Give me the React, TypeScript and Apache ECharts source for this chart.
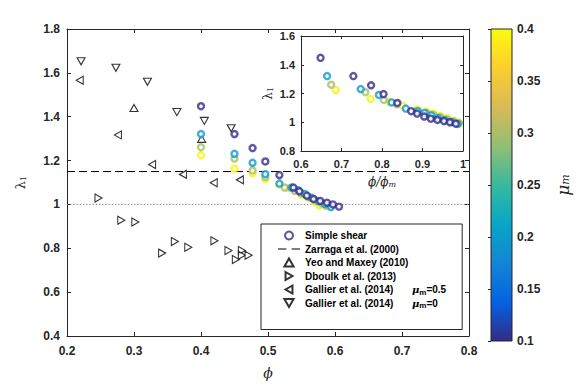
import React, { useEffect, useRef } from 'react';
import * as echarts from 'echarts';

// ---------------- data ----------------
const muValues = [0.1, 0.2, 0.3, 0.4];
const phiMax = [0.617, 0.602, 0.593, 0.583];

const phiMu01 = [0.400, 0.450, 0.477, 0.496, 0.517, 0.538, 0.547, 0.558, 0.568, 0.578, 0.588, 0.597, 0.606];
const lamMu01 = [1.448, 1.321, 1.257, 1.196, 1.134, 1.077, 1.060, 1.040, 1.025, 1.016, 1.008, 1.000, 0.990];
const phiMu02 = [0.400, 0.450, 0.477, 0.496, 0.517, 0.535, 0.545, 0.555, 0.565, 0.575, 0.585, 0.594];
const lamMu02 = [1.321, 1.231, 1.190, 1.138, 1.095, 1.077, 1.065, 1.048, 1.030, 1.015, 1.002, 0.988];
const phiMu03 = [0.400, 0.450, 0.477, 0.496, 0.525, 0.540, 0.550, 0.560, 0.570, 0.580, 0.587];
const lamMu03 = [1.261, 1.209, 1.155, 1.125, 1.077, 1.062, 1.050, 1.035, 1.020, 1.005, 0.993];
const phiMu04 = [0.400, 0.450, 0.477, 0.496, 0.517, 0.530, 0.540, 0.550, 0.560, 0.570, 0.577];
const lamMu04 = [1.224, 1.163, 1.142, 1.115, 1.090, 1.075, 1.062, 1.045, 1.030, 1.010, 0.995];

const gallier0Phi = [0.221, 0.273, 0.320, 0.364, 0.405, 0.445];
const gallier0Lam = [1.653, 1.623, 1.559, 1.421, 1.381, 1.347];
const gallier05Phi = [0.219, 0.276, 0.327, 0.373, 0.419, 0.458];
const gallier05Lam = [1.566, 1.317, 1.182, 1.137, 1.099, 1.112];
const yeoPhi = [0.300, 0.401];
const yeoLam = [1.440, 1.299];
const dboukPhi = [0.247, 0.281, 0.302, 0.342, 0.361, 0.381, 0.420, 0.441, 0.452, 0.461, 0.461, 0.471];
const dboukLam = [1.029, 0.928, 0.920, 0.778, 0.831, 0.805, 0.834, 0.790, 0.749, 0.790, 0.768, 0.768];

const zarragaLambda = 1.15;
const unityLambda = 1;
const phiRange = [0.2, 0.8];

const legendNames = [
  'Simple shear',
  'Zarraga et al. (2000)',
  'Yeo and Maxey (2010)',
  'Dboulk et al. (2013)',
  'Gallier et al. (2014) μm=0.5',
  'Gallier et al. (2014) μm=0',
];

// ---------------- styles ----------------
const shearColors = ['#352a87', '#0a9bcb', '#a9bd69', '#f5f50c'];
const parulaStops = ['#352a87', '#0363e1', '#1485d4', '#06a7c6', '#38b99e', '#92bf73', '#d9ba56', '#fcce2e', '#f9fb0e'];
const axisColor = '#262626';
const sans = 'Liberation Sans, Arial, Helvetica, sans-serif';
const serif = 'DejaVu Serif, Liberation Serif, serif';

const triUp = 'path://M5,0L10,8.66L0,8.66Z';
const triDown = 'path://M0,0L10,0L5,8.66Z';
const triRight = 'path://M0,0L8.66,5L0,10Z';
const triLeft = 'path://M8.66,0L0,5L8.66,10Z';
const dashIcon = 'path://M0,0h8v1h-8zM13,0h8v1h-8z';

const pairs = (xs: number[], ys: number[]) => xs.map((x, i) => [x, ys[i]]);

export default function App() {
  const ref = useRef<HTMLDivElement>(null);
  useEffect(() => {
    if (!ref.current) return;
    const chart = echarts.init(ref.current, undefined, { renderer: 'svg' });

    const shearSets = [
      { phi: phiMu01, lam: lamMu01 },
      { phi: phiMu02, lam: lamMu02 },
      { phi: phiMu03, lam: lamMu03 },
      { phi: phiMu04, lam: lamMu04 },
    ];

    const mainShear = shearSets.map((s, i) => ({
      type: 'scatter',
      name: 'Simple shear',
      xAxisIndex: 0,
      yAxisIndex: 0,
      z: 10 - i,
      symbol: 'circle',
      symbolSize: 6,
      itemStyle: { color: '#fff', borderColor: shearColors[i], borderWidth: 2.4 },
      data: pairs(s.phi, s.lam),
    }));
    const insetShear = shearSets.map((s, i) => ({
      type: 'scatter',
      name: 'inset mu ' + muValues[i],
      xAxisIndex: 2,
      yAxisIndex: 2,
      z: 10 - i,
      symbol: 'circle',
      symbolSize: 6,
      itemStyle: { color: '#fff', borderColor: shearColors[i], borderWidth: 2.4 },
      data: s.phi.map((p, k) => [p / phiMax[i], s.lam[k]]),
    }));

    const triStyle = { color: '#fff', borderColor: '#000', borderWidth: 1.1 };

    const tickLabel = { fontFamily: sans, fontWeight: 'bold', fontSize: 12, color: axisColor };
    const lineSty = { lineStyle: { color: axisColor, width: 1 } };
    const tickIn = (len: number) => ({ show: true, inside: true, length: len, lineStyle: { color: axisColor } });

    const lambdaName = '{l|λ}{s|1}';
    const lambdaRich = {
      l: { fontFamily: serif, fontSize: 13, color: axisColor },
      s: { fontFamily: serif, fontSize: 8, color: axisColor, verticalAlign: 'bottom', lineHeight: 8 },
    };

    const option: any = {
      animation: false,
      backgroundColor: '#fff',
      grid: [
        { left: 67, top: 29, width: 402, height: 312, show: false },
        { left: 301, top: 36, width: 162, height: 115, show: true, backgroundColor: '#fff', borderWidth: 0 },
        {
          left: 491, top: 29, width: 21, height: 312, show: true,
          borderColor: axisColor, borderWidth: 1,
          backgroundColor: new echarts.graphic.LinearGradient(0, 1, 0, 0,
            parulaStops.map((c, i) => ({ offset: i / (parulaStops.length - 1), color: c }))),
        },
      ],
      xAxis: [
        {
          type: 'value', gridIndex: 0, position: 'bottom', min: 0.2, max: 0.8, interval: 0.1,
          axisLine: { show: true, ...lineSty }, axisTick: tickIn(4), splitLine: { show: false },
          axisLabel: { ...tickLabel, margin: 9 },
          name: 'ϕ', nameLocation: 'middle', nameGap: 30,
          nameTextStyle: { fontFamily: serif, fontStyle: 'italic', fontSize: 14, color: axisColor },
        },
        {
          type: 'value', gridIndex: 0, position: 'top', min: 0.2, max: 0.8, interval: 0.1,
          axisLine: { show: true, ...lineSty }, axisTick: tickIn(4), splitLine: { show: false },
          axisLabel: { show: false },
        },
        {
          type: 'value', gridIndex: 1, position: 'bottom', min: 0.6, max: 1, interval: 0.1,
          axisLine: { show: true, ...lineSty }, axisTick: tickIn(3), splitLine: { show: false },
          axisLabel: { ...tickLabel, fontSize: 11, margin: 7 },
          name: '{a|ϕ/ϕ}{s|m}', nameLocation: 'middle', nameGap: 25,
          nameTextStyle: {
            rich: {
              a: { fontFamily: serif, fontStyle: 'italic', fontSize: 12, color: axisColor },
              s: { fontFamily: serif, fontStyle: 'italic', fontSize: 8, color: axisColor, verticalAlign: 'bottom', lineHeight: 8 },
            },
          },
        },
        {
          type: 'value', gridIndex: 1, position: 'top', min: 0.6, max: 1, interval: 0.1,
          axisLine: { show: true, ...lineSty }, axisTick: tickIn(3), splitLine: { show: false },
          axisLabel: { show: false },
        },
        {
          type: 'value', gridIndex: 2, min: 0, max: 1, show: false,
        },
      ],
      yAxis: [
        {
          type: 'value', gridIndex: 0, position: 'left', min: 0.4, max: 1.8, interval: 0.2,
          axisLine: { show: true, ...lineSty }, axisTick: tickIn(4), splitLine: { show: false },
          axisLabel: { ...tickLabel, margin: 7 },
          name: lambdaName, nameLocation: 'middle', nameGap: 40, nameRotate: 90,
          nameTextStyle: { rich: lambdaRich },
        },
        {
          type: 'value', gridIndex: 0, position: 'right', min: 0.4, max: 1.8, interval: 0.2,
          axisLine: { show: true, ...lineSty }, axisTick: tickIn(4), splitLine: { show: false },
          axisLabel: { show: false },
        },
        {
          type: 'value', gridIndex: 1, position: 'left', min: 0.8, max: 1.6, interval: 0.2,
          axisLine: { show: true, ...lineSty }, axisTick: tickIn(3), splitLine: { show: false },
          axisLabel: { ...tickLabel, fontSize: 11, margin: 6 },
          name: lambdaName, nameLocation: 'middle', nameGap: 27, nameRotate: 90,
          nameTextStyle: { rich: { l: { ...lambdaRich.l, fontSize: 12 }, s: lambdaRich.s } },
        },
        {
          type: 'value', gridIndex: 1, position: 'right', min: 0.8, max: 1.6, interval: 0.2,
          axisLine: { show: true, ...lineSty }, axisTick: tickIn(3), splitLine: { show: false },
          axisLabel: { show: false },
        },
        {
          type: 'value', gridIndex: 2, position: 'right', min: 0.1, max: 0.4, interval: 0.05,
          axisLine: { show: false }, axisTick: tickIn(3), splitLine: { show: false },
          axisLabel: { ...tickLabel, margin: 5 },
          name: '{m|μ}{s|m}', nameLocation: 'middle', nameGap: 42, nameRotate: 90,
          nameTextStyle: {
            rich: {
              m: { fontFamily: serif, fontStyle: 'italic', fontSize: 17, color: axisColor },
              s: { fontFamily: serif, fontStyle: 'italic', fontSize: 11, color: axisColor, verticalAlign: 'bottom', lineHeight: 10 },
            },
          },
        },
      ],
      legend: {
        orient: 'vertical',
        left: 261,
        top: 224,
        padding: [5, 16, 20, 17],
        itemWidth: 22,
        itemHeight: 8,
        itemGap: 0.5,
        backgroundColor: '#fff',
        borderColor: axisColor,
        borderWidth: 1,
        selectedMode: false,
        data: legendNames.map((n) =>
          n === 'Zarraga et al. (2000)'
            ? { name: n, icon: dashIcon, itemStyle: { color: '#000', borderWidth: 0 } }
            : { name: n }
        ),
        formatter: (name: string) => {
          const m = name.match(/^(.*\(2014\)) μm=(.*)$/);
          if (m) return `{a|${m[1]}}{mu|μ}{sub|m}{b|=${m[2]}}`;
          return `{a|${name}}`;
        },
        textStyle: {
          fontFamily: sans, fontWeight: 'bold', fontSize: 10, color: '#000', lineHeight: 13,
          rich: {
            a: { fontFamily: sans, fontWeight: 'bold', fontSize: 10, color: '#000', lineHeight: 13, width: 107 },
            mu: { fontFamily: serif, fontStyle: 'italic', fontSize: 10, color: '#000', lineHeight: 13 },
            sub: { fontFamily: sans, fontSize: 8, color: '#000', lineHeight: 8, verticalAlign: 'bottom' },
            b: { fontFamily: sans, fontWeight: 'bold', fontSize: 10, color: '#000', lineHeight: 13 },
          },
        },
      },
      series: [
        ...mainShear,
        {
          type: 'line', name: 'Zarraga et al. (2000)', xAxisIndex: 0, yAxisIndex: 0,
          symbol: 'none', showSymbol: false, silent: true,
          itemStyle: { color: '#000' },
          lineStyle: { color: '#000', width: 1, type: [8, 4] },
          data: phiRange.map((p) => [p, zarragaLambda]),
        },
        {
          type: 'line', name: 'unity', xAxisIndex: 0, yAxisIndex: 0,
          symbol: 'none', showSymbol: false, silent: true,
          lineStyle: { color: '#777', width: 1, type: [1.2, 2] },
          data: phiRange.map((p) => [p, unityLambda]),
        },
        {
          type: 'scatter', name: 'Yeo and Maxey (2010)', xAxisIndex: 0, yAxisIndex: 0,
          symbol: triUp, symbolSize: [8, 7], itemStyle: triStyle, data: pairs(yeoPhi, yeoLam),
        },
        {
          type: 'scatter', name: 'Dboulk et al. (2013)', xAxisIndex: 0, yAxisIndex: 0,
          symbol: triRight, symbolSize: [7, 8], itemStyle: triStyle, data: pairs(dboukPhi, dboukLam),
        },
        {
          type: 'scatter', name: 'Gallier et al. (2014) μm=0.5', xAxisIndex: 0, yAxisIndex: 0,
          symbol: triLeft, symbolSize: [7, 8], itemStyle: triStyle, data: pairs(gallier05Phi, gallier05Lam),
        },
        {
          type: 'scatter', name: 'Gallier et al. (2014) μm=0', xAxisIndex: 0, yAxisIndex: 0,
          symbol: triDown, symbolSize: [8, 7], itemStyle: triStyle, data: pairs(gallier0Phi, gallier0Lam),
        },
        ...insetShear,
      ],
    };

    chart.setOption(option);
    return () => chart.dispose();
  }, []);

  return (
    <div
      ref={ref}
      style={{ position: 'fixed', left: 0, top: 0, width: 581, height: 385, background: '#fff' }}
    />
  );
}
